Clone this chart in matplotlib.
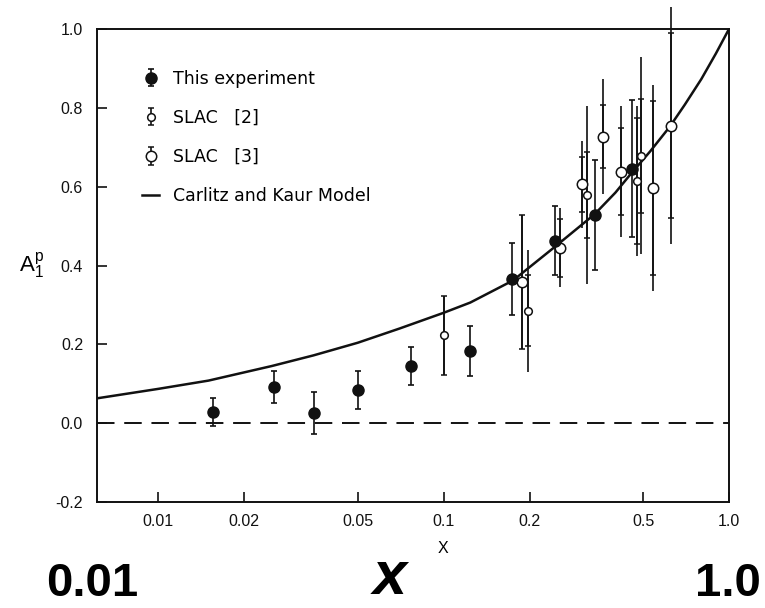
import matplotlib
matplotlib.use("Agg")
import matplotlib.pyplot as plt

# ---- data -------------------------------------------------------------
# This experiment (filled points)
x_emc = [0.0155, 0.0255, 0.035, 0.050, 0.077, 0.124, 0.174, 0.245, 0.338, 0.459]
a_emc = [0.029, 0.092, 0.025, 0.084, 0.145, 0.183, 0.366, 0.463, 0.528, 0.646]
e_emc = [0.035, 0.040, 0.053, 0.049, 0.048, 0.063, 0.091, 0.088, 0.140, 0.173]

# SLAC [2] (small open points): inner (ticked) and outer error
x_s2 = [0.100, 0.197, 0.319, 0.476, 0.492]
a_s2 = [0.223, 0.285, 0.579, 0.614, 0.678]
in_s2 = [0.100, 0.090, 0.110, 0.160, 0.145]
out_s2 = [0.100, 0.155, 0.225, 0.190, 0.250]

# SLAC [3] (large open points)
x_s3 = [0.188, 0.256, 0.305, 0.363, 0.418, 0.5435, 0.625]
a_s3 = [0.357, 0.445, 0.606, 0.727, 0.638, 0.597, 0.755]
in_s3 = [0.170, 0.073, 0.070, 0.079, 0.110, 0.220, 0.235]
out_s3 = [0.170, 0.100, 0.110, 0.145, 0.166, 0.262, 0.300]

# Carlitz and Kaur model curve
x_model = [0.0061, 0.01, 0.015, 0.025, 0.035, 0.05, 0.07, 0.1, 0.124, 0.175,
           0.245, 0.338, 0.4, 0.45, 0.53, 0.62, 0.7, 0.8, 0.9, 1.0]
a_model = [0.063, 0.087, 0.108, 0.145, 0.172, 0.204, 0.240, 0.280, 0.306,
           0.362, 0.447, 0.530, 0.585, 0.630, 0.690, 0.752, 0.808, 0.873,
           0.938, 1.0]

x_ticks = [0.01, 0.02, 0.05, 0.1, 0.2, 0.5, 1.0]
x_tick_labels = ["0.01", "0.02", "0.05", "0.1", "0.2", "0.5", "1.0"]
y_ticks = [-0.2, 0.0, 0.2, 0.4, 0.6, 0.8, 1.0]
y_tick_labels = ["-0.2", "0.0", "0.2", "0.4", "0.6", "0.8", "1.0"]

# ---- style ------------------------------------------------------------
plt.rcParams["font.family"] = ["Liberation Sans", "DejaVu Sans"]
plt.rcParams["mathtext.fontset"] = "custom"
plt.rcParams["mathtext.rm"] = "Liberation Sans"
plt.rcParams["mathtext.it"] = "Liberation Sans"

fig = plt.figure(figsize=(7.65, 6.08), dpi=100)
ax = fig.add_axes([97 / 765, 1 - 502 / 608, (729 - 97) / 765, (502 - 29) / 608])

ax.set_xscale("log")
ax.set_xlim(0.0061, 1.0)
ax.set_ylim(-0.2, 1.0)

for sp in ax.spines.values():
    sp.set_linewidth(1.4)
    sp.set_color("#111111")

ax.set_xticks(x_ticks, x_tick_labels)
ax.xaxis.set_minor_locator(plt.NullLocator())
ax.set_yticks(y_ticks, y_tick_labels)
ax.tick_params(direction="in", length=7, width=1.2, labelsize=11.5,
               colors="#111111")
ax.tick_params(axis="y", pad=10)
ax.tick_params(axis="x", pad=9)

# zero reference line
ax.axhline(0.0, color="#111111", lw=1.4, dashes=(9, 5), zorder=1)

# model curve
line_model, = ax.plot(x_model, a_model, color="#111111", lw=1.8, zorder=2)

ek = dict(ecolor="#111111", elinewidth=1.2, capthick=1.2)

# SLAC outer error extents
ax.errorbar(x_s2, a_s2, yerr=out_s2, fmt="none", capsize=0, zorder=3, **ek)
ax.errorbar(x_s3, a_s3, yerr=out_s3, fmt="none", capsize=0, zorder=3, **ek)

h_s2 = ax.errorbar(x_s2, a_s2, yerr=in_s2, fmt="o", ms=5.5, mfc="white",
                   mec="#111111", mew=1.1, capsize=2.5, zorder=4, **ek)
h_s3 = ax.errorbar(x_s3, a_s3, yerr=in_s3, fmt="o", ms=7.5, mfc="white",
                   mec="#111111", mew=1.1, capsize=2.5, zorder=4, **ek)
h_emc = ax.errorbar(x_emc, a_emc, yerr=e_emc, fmt="o", ms=8, mfc="#111111",
                    mec="#111111", capsize=2.5, zorder=5, **ek)

# let the tallest bars run past the frame
for cont in ax.containers:
    for art in cont.get_children():
        art.set_clip_on(False)

ax.legend([h_emc, h_s2, h_s3, line_model],
          ["This experiment", "SLAC   [2]", "SLAC   [3]",
           "Carlitz and Kaur Model"],
          loc="upper left", bbox_to_anchor=(0.071, 0.914),
          frameon=False, borderpad=0, borderaxespad=0,
          handlelength=1.0, handletextpad=0.8, labelspacing=1.22,
          prop={"family": "DejaVu Sans", "size": 12.5})

ax.set_ylabel(r"$\mathregular{A_1^p}$", rotation=0, fontsize=16,
              va="center", ha="center")
ax.yaxis.set_label_coords(-0.104, 0.5)
ax.set_xlabel("X", fontsize=11.5)
ax.xaxis.set_label_coords(0.547, -0.082)

# range annotations below the axis
big = dict(family=["Liberation Sans Narrow", "Liberation Sans"],
           fontweight="bold", va="bottom", color="black")
fig.text(92 / 765, 2 / 608, "0.01", ha="center", fontsize=34, **big)
fig.text(390 / 765, 0.5 / 608, "x", ha="center", fontsize=44,
         style="italic", **big)
fig.text(728 / 765, 2 / 608, "1.0", ha="center", fontsize=34, **big)

fig.savefig("out.png", dpi=100)
